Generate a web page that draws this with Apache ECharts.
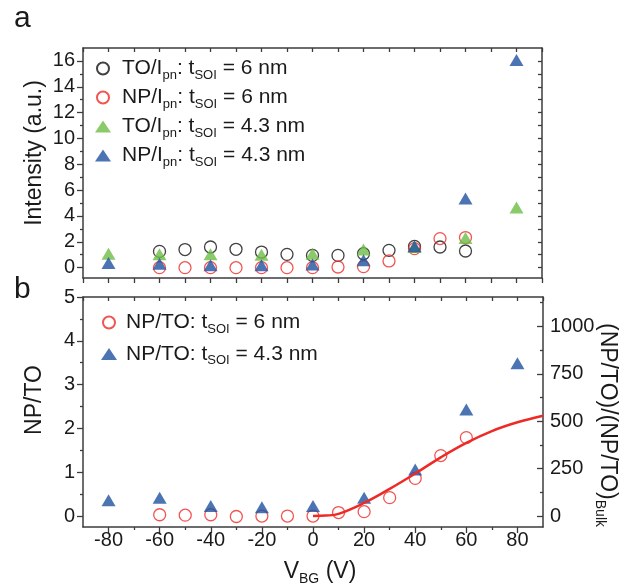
<!DOCTYPE html>
<html>
<head>
<meta charset="utf-8">
<script src="https://cdn.jsdelivr.net/npm/echarts@6/dist/echarts.min.js"></script>
<style>
  html, body { margin: 0; padding: 0; background: #fff; }
  #chart { width: 630px; height: 585px; }
</style>
</head>
<body>
<div id="chart"></div>
<script>
// panel a: intensities, 6 nm (every 10 V) and 4.3 nm (every 20 V)
var vbg6 = [-60, -50, -40, -30, -20, -10, 0, 10, 20, 30, 40, 50, 60]
var to6 = [1.26, 1.40, 1.60, 1.42, 1.21, 1.03, 0.95, 0.95, 1.08, 1.34, 1.65, 1.60, 1.29]
var np6 = [0, 0, 0, 0, 0, 0, 0, 0.05, 0.08, 0.52, 1.47, 2.25, 2.33]
var vbg43 = [-80, -60, -40, -20, 0, 20, 40, 60, 80]
var to43 = [1.08, 1.03, 1.03, 1.00, 1.08, 1.40, 1.60, 2.30, 4.65]
var np43 = [0.36, 0.30, 0.18, 0.18, 0.25, 0.57, 1.65, 5.35, 16.07]

// panel b: NP/TO ratio and the fit line
var ratio6 = [0.03, 0.02, 0.03, -0.01, 0, 0, 0, 0.08, 0.10, 0.42, 0.86, 1.38, 1.79]
var ratio43 = [0.36, 0.42, 0.23, 0.20, 0.23, 0.42, 1.06, 2.43, 3.49]
var fitV = [0, 5, 10, 20, 30, 40, 50, 60, 70, 80, 90]
var fit = [0, 0.01, 0.05, 0.30, 0.62, 0.97, 1.34, 1.67, 1.94, 2.14, 2.29]

// tick labels
var vbgTicks = [-80, -60, -40, -20, 0, 20, 40, 60, 80]
var vbgMinor = [-70, -50, -30, -10, 10, 30, 50, 70]
var intTicks = [0, 2, 4, 6, 8, 10, 12, 14, 16]
var intMinor = [1, 3, 5, 7, 9, 11, 13, 15]
var intAll = [0, 1, 2, 3, 4, 5, 6, 7, 8, 9, 10, 11, 12, 13, 14, 15, 16]
var ratioTicks = [0, 1, 2, 3, 4, 5]
var ratioMinor = [0.5, 1.5, 2.5, 3.5, 4.5]
var bulkTicks = [0, 250, 500, 750, 1000]
var bulkMinor = [125, 375, 625, 875, 1125]
var BULK = 231 // (NP/TO)/(NP/TO)_Bulk per unit of NP/TO

var FONT = "'Liberation Sans', Arial, sans-serif"
var INK = '#1a1a1a'
var AXC = '#3c3c3c'
var RED = '#ee2a26'
var GREEN = '#6dbd45'
var BLUE = '#1f51a0'

var legendNames = {
  TO6: '{m|TO/I}{s|pn}{m|: t}{s|SOI}{m| = 6 nm}',
  NP6: '{m|NP/I}{s|pn}{m|: t}{s|SOI}{m| = 6 nm}',
  TO43: '{m|TO/I}{s|pn}{m|: t}{s|SOI}{m| = 4.3 nm}',
  NP43: '{m|NP/I}{s|pn}{m|: t}{s|SOI}{m| = 4.3 nm}',
  R6: '{m|NP/TO: t}{s|SOI}{m| = 6 nm}',
  R43: '{m|NP/TO: t}{s|SOI}{m| = 4.3 nm}'
}
var rich = {
  m: { fontSize: 21, lineHeight: 26, fontFamily: FONT, color: INK },
  s: { fontSize: 13, lineHeight: 12, fontFamily: FONT, color: INK, verticalAlign: 'bottom' }
}

function pairs (xs, ys) {
  return xs.map(function (x, i) { return [x, ys[i]] })
}

// one axis; opt overrides
function axis (base, opt) {
  var a = Object.assign({
    type: 'value',
    axisLine: { show: true, onZero: false, lineStyle: { color: AXC, width: 1.5 } },
    axisTick: { show: true, length: 5, lineStyle: { color: AXC, width: 1.3 } },
    axisLabel: { show: false },
    splitLine: { show: false }
  }, base)
  if (opt.ticks) a.axisTick = Object.assign({}, a.axisTick, opt.ticks)
  if (opt.labels) {
    a.axisLabel = Object.assign({
      show: true, fontSize: 20, color: INK, fontFamily: FONT,
      formatter: function (v) { return String(v) }
    }, opt.labels)
  }
  if (opt.noLine) a.axisLine = { show: false, onZero: false }
  return a
}

function ring (color) {
  return { color: 'rgba(0,0,0,0)', borderColor: color, borderWidth: 1.3 }
}

var chart = echarts.init(document.getElementById('chart'))
chart.setOption({
  animation: false,
  backgroundColor: '#fff',
  textStyle: { fontFamily: FONT },
  grid: [
    { left: 83, top: 48, width: 459, height: 230 },
    { left: 83, top: 297, width: 460, height: 230 }
  ],
  xAxis: [
    axis({ gridIndex: 0, position: 'bottom', min: -90, max: 90, interval: 10 }, {}),
    axis({ gridIndex: 0, position: 'top', min: -90, max: 90, interval: 10 }, { ticks: { inside: true, length: 4 } }),
    axis({ gridIndex: 1, position: 'bottom', min: -90, max: 90 },
      { ticks: { length: 6, customValues: vbgTicks }, labels: { customValues: vbgTicks, margin: 3 } }),
    axis({ gridIndex: 1, position: 'bottom', min: -90, max: 90 },
      { noLine: true, ticks: { length: 3, customValues: vbgMinor } }),
    axis({ gridIndex: 1, position: 'top', min: -90, max: 90, interval: 10 }, { ticks: { inside: true, length: 4 } })
  ],
  yAxis: [
    axis({ gridIndex: 0, position: 'left', min: -0.8, max: 17 },
      { ticks: { length: 6, customValues: intTicks }, labels: { customValues: intTicks, margin: 8 } }),
    axis({ gridIndex: 0, position: 'left', min: -0.8, max: 17 },
      { noLine: true, ticks: { length: 3, customValues: intMinor } }),
    axis({ gridIndex: 0, position: 'right', min: -0.8, max: 17 },
      { ticks: { inside: true, length: 4, customValues: intAll } }),
    axis({ gridIndex: 1, position: 'left', min: -0.25, max: 5 },
      { ticks: { length: 6, customValues: ratioTicks }, labels: { customValues: ratioTicks, margin: 8 } }),
    axis({ gridIndex: 1, position: 'left', min: -0.25, max: 5 },
      { noLine: true, ticks: { length: 3, customValues: ratioMinor } }),
    axis({ gridIndex: 1, position: 'right', min: -0.25 * BULK, max: 5 * BULK },
      { ticks: { inside: true, length: 6, customValues: bulkTicks }, labels: { customValues: bulkTicks, margin: 7 } }),
    axis({ gridIndex: 1, position: 'right', min: -0.25 * BULK, max: 5 * BULK },
      { noLine: true, ticks: { inside: true, length: 3, customValues: bulkMinor } })
  ],
  legend: [
    {
      data: ['TO6', 'NP6', 'TO43', 'NP43'],
      orient: 'vertical', left: 90, top: 53, itemGap: 5.5,
      itemWidth: 16, itemHeight: 12,
      formatter: function (n) { return legendNames[n] },
      textStyle: { rich: rich, padding: [0, 0, 0, 6] },
      selectedMode: false
    },
    {
      data: ['R6', 'R43'],
      orient: 'vertical', left: 96, top: 307, itemGap: 8,
      itemWidth: 16, itemHeight: 12,
      formatter: function (n) { return legendNames[n] },
      textStyle: { rich: rich, padding: [0, 0, 0, 4] },
      selectedMode: false
    }
  ],
  graphic: [
    { type: 'text', left: 14, top: 4, style: { text: 'a', fontSize: 30, fontFamily: FONT, fill: INK } },
    { type: 'text', left: 14, top: 275, style: { text: 'b', fontSize: 30, fontFamily: FONT, fill: INK } },
    { type: 'text', x: 35, y: 153, rotation: Math.PI / 2,
      style: { text: 'Intensity (a.u.)', fontSize: 23, fontFamily: FONT, fill: INK, align: 'center', verticalAlign: 'middle' } },
    { type: 'text', x: 35, y: 400, rotation: Math.PI / 2,
      style: { text: 'NP/TO', fontSize: 23, fontFamily: FONT, fill: INK, align: 'center', verticalAlign: 'middle' } },
    { type: 'text', x: 320, y: 572,
      style: {
        text: '{m|V}{s|BG}{m| (V)}', align: 'center', verticalAlign: 'middle',
        rich: {
          m: { fontSize: 23, lineHeight: 28, fontFamily: FONT, fill: INK },
          s: { fontSize: 14, lineHeight: 13, fontFamily: FONT, fill: INK, verticalAlign: 'bottom' }
        }
      } },
    { type: 'text', x: 607, y: 425, rotation: -Math.PI / 2,
      style: {
        text: '{m|(NP/TO)/(NP/TO)}{s|Bulk}', align: 'center', verticalAlign: 'middle',
        rich: {
          m: { fontSize: 23, lineHeight: 28, fontFamily: FONT, fill: INK },
          s: { fontSize: 14, lineHeight: 13, fontFamily: FONT, fill: INK, verticalAlign: 'bottom' }
        }
      } }
  ],
  series: [
    { name: 'TO6', type: 'scatter', xAxisIndex: 0, yAxisIndex: 0, symbol: 'circle', symbolSize: 12,
      itemStyle: ring('#111'), data: pairs(vbg6, to6) },
    { name: 'NP6', type: 'scatter', xAxisIndex: 0, yAxisIndex: 0, symbol: 'circle', symbolSize: 12,
      itemStyle: ring(RED), data: pairs(vbg6, np6) },
    { name: 'TO43', type: 'scatter', xAxisIndex: 0, yAxisIndex: 0, symbol: 'triangle', symbolSize: [14, 12],
      itemStyle: { color: GREEN }, data: pairs(vbg43, to43) },
    { name: 'NP43', type: 'scatter', xAxisIndex: 0, yAxisIndex: 0, symbol: 'triangle', symbolSize: [14, 12],
      itemStyle: { color: BLUE }, data: pairs(vbg43, np43) },
    { name: 'fit', type: 'line', xAxisIndex: 2, yAxisIndex: 3, smooth: 0.4, showSymbol: false,
      lineStyle: { color: RED, width: 2.5 }, data: pairs(fitV, fit) },
    { name: 'R6', type: 'scatter', xAxisIndex: 2, yAxisIndex: 3, symbol: 'circle', symbolSize: 12,
      itemStyle: ring(RED), data: pairs(vbg6, ratio6) },
    { name: 'R43', type: 'scatter', xAxisIndex: 2, yAxisIndex: 3, symbol: 'triangle', symbolSize: [14, 12],
      itemStyle: { color: BLUE }, data: pairs(vbg43, ratio43) }
  ]
})
</script>
</body>
</html>
